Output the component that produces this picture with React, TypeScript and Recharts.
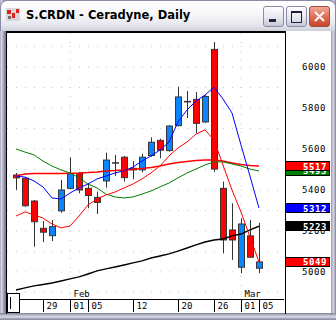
import React from "react";
import { ComposedChart, Bar, Line, XAxis, YAxis, CartesianGrid } from "recharts";

const dates = [
  "Jan 24", "Jan 25", "Jan 26", "Jan 29", "Jan 30", "Jan 31", "Feb 01", "Feb 02",
  "Feb 05", "Feb 06", "Feb 07", "Feb 08", "Feb 09", "Feb 12", "Feb 13", "Feb 14",
  "Feb 15", "Feb 16", "Feb 20", "Feb 21", "Feb 22", "Feb 23", "Feb 26", "Feb 27",
  "Feb 28", "Mar 01", "Mar 02", "Mar 05",
];
const opens = [5473, 5457, 5346, 5213, 5177, 5298, 5408, 5480, 5408, 5364, 5444, 5527, 5560, 5506, 5498, 5568, 5642, 5592, 5714, 5831, 5842, 5732, 6086, 5408, 5205, 5023, 5176, 5018];
const highs = [5483, 5462, 5351, 5249, 5254, 5449, 5559, 5488, 5434, 5392, 5582, 5571, 5566, 5541, 5576, 5657, 5650, 5717, 5904, 5883, 5878, 5863, 6122, 5441, 5335, 5262, 5254, 5240];
const lows = [5400, 5318, 5123, 5146, 5151, 5289, 5404, 5384, 5311, 5283, 5411, 5468, 5441, 5452, 5486, 5562, 5555, 5587, 5709, 5751, 5677, 5727, 5488, 5091, 5059, 4994, 5070, 4994];
const closes = [5459, 5323, 5245, 5194, 5221, 5400, 5480, 5400, 5373, 5339, 5546, 5532, 5460, 5498, 5560, 5633, 5594, 5712, 5854, 5831, 5725, 5856, 5502, 5156, 5156, 5234, 5072, 5049];

const fastRed = [5273, 5293, 5278, 5263, 5234, 5215, 5224, 5273, 5327, 5356, 5376, 5390, 5410, 5429, 5454, 5483, 5517, 5566, 5605, 5634, 5673, 5693, 5644, 5522, 5400, 5293, 5171, 5049];
const blueLine = [5468, 5463, 5444, 5415, 5361, 5356, 5385, 5410, 5429, 5454, 5468, 5483, 5493, 5512, 5541, 5566, 5595, 5634, 5732, 5790, 5834, 5863, 5902, 5844, 5776, 5620, 5468, 5312];
const greenLine = [5600, 5585, 5571, 5541, 5517, 5498, 5483, 5459, 5429, 5410, 5380, 5366, 5361, 5366, 5380, 5395, 5415, 5434, 5459, 5483, 5502, 5522, 5537, 5537, 5527, 5517, 5502, 5493];
const slowRed = [5468, 5478, 5480, 5480, 5480, 5480, 5482, 5483, 5485, 5488, 5493, 5495, 5498, 5500, 5505, 5510, 5517, 5527, 5534, 5539, 5544, 5546, 5546, 5541, 5532, 5524, 5520, 5517];
const blackLine = [4912, 4922, 4932, 4939, 4946, 4956, 4966, 4976, 4990, 5005, 5015, 5024, 5034, 5044, 5054, 5068, 5078, 5088, 5102, 5117, 5132, 5146, 5156, 5161, 5176, 5185, 5205, 5223];

const tickDates = ["Jan 29", "Feb 01", "Feb 05", "Feb 12", "Feb 20", "Feb 26", "Mar 01", "Mar 05"];
const priceTicks = [5000, 5200, 5400, 5600, 5800, 6000];
const gridLevels = [4900, 5000, 5100, 5200, 5300, 5400, 5500, 5600, 5700, 5800, 5900, 6000, 6100];

const data = dates.map((d, i) => ({
  i,
  date: d,
  open: opens[i],
  high: highs[i],
  low: lows[i],
  close: closes[i],
  range: [lows[i], highs[i]],
  fast: fastRed[i],
  blue: blueLine[i],
  green: greenLine[i],
  slow: slowRed[i],
  black: blackLine[i],
}));

const last = (a: number[]) => a[a.length - 1];
const marks = [
  { value: last(greenLine), color: "#008000" },
  { value: last(slowRed), color: "#ff0000" },
  { value: last(blueLine), color: "#0000ff" },
  { value: last(blackLine), color: "#000000" },
  { value: last(fastRed), color: "#ff0000" },
];

const mono = "DejaVu Sans Mono";

const Candle = (props: any) => {
  const { x, y, width, height, payload } = props;
  const { open, close, high, low } = payload;
  const cx = Math.round(x + width / 2) + 0.5;
  const span = high - low || 1;
  const py = (v: number) => y + ((high - v) / span) * height;
  const top = py(Math.max(open, close));
  const bot = py(Math.min(open, close));
  const doji = Math.abs(close - open) < 6;
  return (
    <g>
      <line x1={cx} x2={cx} y1={y} y2={y + height} stroke="#333" strokeWidth={1} />
      {doji ? (
        <line x1={cx - 3.5} x2={cx + 3.5} y1={top} y2={top} stroke="#333" strokeWidth={1.5} />
      ) : (
        <rect
          x={cx - 3}
          y={top}
          width={6}
          height={Math.max(bot - top, 1)}
          fill={close > open ? "#0a84ff" : "#ff0000"}
          stroke="#383838"
          strokeWidth={1}
        />
      )}
    </g>
  );
};

const DateTick = (props: any) => {
  const { x, y, payload } = props;
  const [mon, day] = dates[payload.value].split(" ");
  const lx = Math.round(x) + 0.5;
  return (
    <g>
      <line x1={lx} x2={lx} y1={y + 1} y2={y + 13} stroke="#000" />
      <text x={lx + 3} y={y + 10} fontSize={9} fontFamily={mono} fill="#000">
        {day}
      </text>
      {day === "01" && (
        <text x={lx + 3} y={y - 2} fontSize={9} fontFamily={mono} fill="#000">
          {mon}
        </text>
      )}
    </g>
  );
};

const PriceTick = (props: any) => {
  const { x, y, payload } = props;
  const v = payload.value;
  const mark = marks.find((m) => m.value === v);
  if (!mark) {
    return (
      <text x={x} y={y + 3} fontSize={9} fontFamily={mono} fill="#000" letterSpacing={0.6}>
        {v}
      </text>
    );
  }
  return (
    <g>
      <rect x={x - 16.5} y={Math.round(y) - 4.5} width={44} height={9} fill={mark.color} stroke="#000" />
      <text x={x + 25} y={y + 3.5} textAnchor="end" fontSize={9} fontWeight="bold" fontFamily={mono} fill="#fff" letterSpacing={0.6}>
        {v}
      </text>
    </g>
  );
};

const btn: React.CSSProperties = {
  position: "absolute",
  top: 6,
  width: 19,
  height: 19,
  border: "1px solid #8a8aa8",
  borderRadius: 3,
  background: "linear-gradient(#ffffff, #e4e4ec 60%, #c8c8d6)",
  boxSizing: "content-box",
};

export default function App() {
  const tickIdx = tickDates.map((d) => dates.indexOf(d));
  const monthStarts = tickDates.filter((d) => d.endsWith("01")).map((d) => dates.indexOf(d));
  return (
    <div style={{ position: "fixed", left: 0, top: 0, width: 336, height: 320, background: "#b8b8c8", overflow: "hidden" }}>
      {/* frame */}
      <div style={{ position: "absolute", left: 0, top: 0, width: 336, height: 320, background: "linear-gradient(90deg,#9090aa 0,#dcdce6 1px,#b4b4c6 3px,#7c7c9c 5px)" }} />
      <div style={{ position: "absolute", left: 330, top: 0, width: 6, height: 320, background: "linear-gradient(90deg,#7c7c9c 0,#b4b4c6 2px,#dcdce6 4px,#9090aa 5px)" }} />
      <div style={{ position: "absolute", left: 0, top: 313, width: 336, height: 7, background: "linear-gradient(#7c7c9c 0,#b4b4c6 2px,#dcdce6 4px,#9090aa 6px)" }} />
      {/* title bar */}
      <div style={{ position: "absolute", left: 0, top: 0, width: 334, height: 30, border: "1px solid #8a8aa6", borderBottom: "none", borderRadius: "7px 7px 0 0", background: "linear-gradient(#ffffff 0%, #f6f6f9 45%, #e6e6ee 80%, #cfcfdb 100%)" }} />
      <div style={{ position: "absolute", left: 6, top: 8, width: 14, height: 13, background: "#d8d8d8" }}>
        <div style={{ position: "absolute", left: 1, top: 2, width: 4, height: 4, background: "#e02020" }} />
        <div style={{ position: "absolute", left: 6, top: 5, width: 3, height: 5, background: "#e02020" }} />
        <div style={{ position: "absolute", left: 10, top: 1, width: 3, height: 4, background: "#e02020" }} />
        <div style={{ position: "absolute", left: 2, top: 8, width: 3, height: 3, background: "#707070" }} />
      </div>
      <div style={{ position: "absolute", left: 26, top: 8, fontFamily: "DejaVu Sans", fontWeight: "bold", fontSize: 11.5, color: "#000", whiteSpace: "nowrap" }}>
        S.CRDN - Ceradyne, Daily
      </div>
      <div style={{ ...btn, left: 263 }}>
        <div style={{ position: "absolute", left: 5, top: 12, width: 7, height: 3, background: "#202040" }} />
      </div>
      <div style={{ ...btn, left: 286 }}>
        <div style={{ position: "absolute", left: 4, top: 4, width: 9, height: 9, border: "1px solid #202040", borderTopWidth: 2 }} />
      </div>
      <div style={{ ...btn, left: 309, border: "1px solid #a04a3a", background: "linear-gradient(#f2a898, #e0705a 50%, #c8442c)" }}>
        <svg width={19} height={19} style={{ position: "absolute", left: 0, top: 0 }}>
          <path d="M5 5 L14 14 M14 5 L5 14" stroke="#fff" strokeWidth={2} />
        </svg>
      </div>
      {/* client */}
      <div style={{ position: "absolute", left: 6, top: 31, width: 325, height: 282, background: "#fff" }} />
      <div style={{ position: "absolute", left: 6, top: 31, width: 278, height: 281, borderTop: "2px solid #000", borderLeft: "1px solid #000", borderRight: "1px solid #000" }} />
      <div style={{ position: "absolute", left: 7, top: 299, width: 277, height: 1, background: "#000" }} />
      <div style={{ position: "absolute", left: 0, top: 0 }}>
        <ComposedChart width={336} height={320} data={data} margin={{ top: 33, left: 7, right: 0, bottom: 0 }}>
          <CartesianGrid
            stroke="#c4c4c4"
            strokeDasharray="1 8"
            horizontalValues={gridLevels}
            verticalValues={monthStarts}
          />
          <XAxis
            type="number"
            dataKey="i"
            domain={[-1, 29.78]}
            allowDataOverflow
            ticks={tickIdx}
            interval={0}
            height={21}
            axisLine={false}
            tickLine={false}
            tickSize={0}
            tickMargin={0}
            tick={<DateTick />}
          />
          <YAxis
            orientation="right"
            domain={[4868, 6166]}
            allowDataOverflow
            ticks={[...priceTicks, ...marks.map((m) => m.value)]}
            interval={0}
            width={52}
            axisLine={false}
            tickLine={false}
            tickSize={0}
            tickMargin={18}
            tick={<PriceTick />}
          />
          <Line dataKey="black" stroke="#000" strokeWidth={1.4} dot={false} isAnimationActive={false} />
          <Line dataKey="slow" stroke="#ff0000" strokeWidth={1.5} dot={false} isAnimationActive={false} />
          <Line dataKey="green" stroke="#008000" strokeWidth={1} dot={false} isAnimationActive={false} />
          <Line dataKey="blue" stroke="#0000ff" strokeWidth={1} dot={false} isAnimationActive={false} />
          <Line dataKey="fast" stroke="#ff0000" strokeWidth={1} dot={false} isAnimationActive={false} />
          <Bar dataKey="range" barSize={7} shape={<Candle />} isAnimationActive={false} />
        </ComposedChart>
      </div>
      <div style={{ position: "absolute", left: 7, top: 293, width: 11, height: 18, border: "1px solid #000", background: "#fff" }}>
        <div style={{ position: "absolute", left: 2, top: 3, width: 1, height: 12, background: "#000" }} />
      </div>
    </div>
  );
}
